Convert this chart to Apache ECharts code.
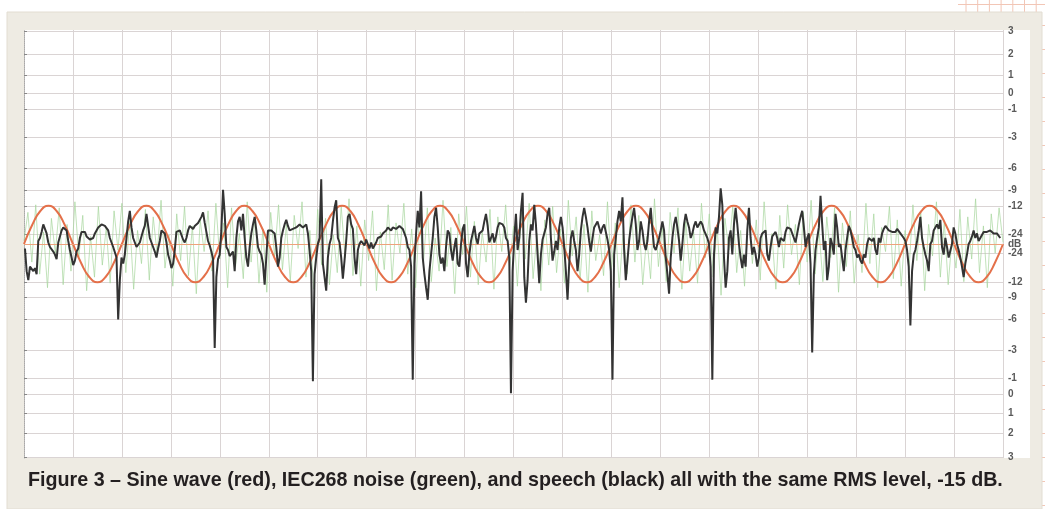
<!DOCTYPE html>
<html><head><meta charset="utf-8">
<script src="https://cdn.jsdelivr.net/npm/echarts@6/dist/echarts.min.js"></script>
<style>html,body{margin:0;padding:0;background:#fff}#c{width:1045px;height:509px}</style>
</head><body><div id="c"></div>
<script>
// dB marks on the right-hand scale (mirrored above/below the zero line)
const dbMarks = [3, 2, 1, 0, -1, -3, -6, -9, -12, -24];
const centerLabel = 'dB';
const captionText = 'Figure 3 \u2013 Sine wave (red), IEC268 noise (green), and speech (black) all with the same RMS level, -15 dB.';

// time axis in ms: 0..10, grid every 0.5 ms
const timeMax = 10;
const timeGrid = 0.5;

// Sine wave (1 kHz, peak ≈ -12 dB), sampled every 1/12 ms
const sineStep = 1 / 12;
const sine = [
 0,0.126,0.219,0.253,0.219,0.126,0,-0.126,-0.219,-0.253,-0.219,-0.126,
 0,0.126,0.219,0.253,0.219,0.126,0,-0.126,-0.219,-0.253,-0.219,-0.126,
 0,0.126,0.219,0.253,0.219,0.126,0,-0.126,-0.219,-0.253,-0.219,-0.126,
 0,0.126,0.219,0.253,0.219,0.126,0,-0.126,-0.219,-0.253,-0.219,-0.126,
 0,0.126,0.219,0.253,0.219,0.126,0,-0.126,-0.219,-0.253,-0.219,-0.126,
 0,0.126,0.219,0.253,0.219,0.126,0,-0.126,-0.219,-0.253,-0.219,-0.126,
 0,0.126,0.219,0.253,0.219,0.126,0,-0.126,-0.219,-0.253,-0.219,-0.126,
 0,0.126,0.219,0.253,0.219,0.126,0,-0.126,-0.219,-0.253,-0.219,-0.126,
 0,0.126,0.219,0.253,0.219,0.126,0,-0.126,-0.219,-0.253,-0.219,-0.126,
 0,0.126,0.219,0.253,0.219,0.126,0,-0.126,-0.219,-0.253,-0.219,-0.126,
 0
];

// IEC268 noise, sampled every 0.04 ms
const noiseStep = 0.04;
const noise = [
 0.02,0.21,-0.12,0.26,-0.20,0.08,-0.29,0.17,-0.06,0.24,-0.27,0.13,-0.18,0.28,-0.09,0.19,-0.31,0.05,-0.22,0.25,-0.14,0.11,-0.26,0.22,-0.04,
 0.27,-0.19,0.15,-0.30,0.09,-0.13,0.23,-0.24,0.18,-0.07,0.29,-0.16,0.06,-0.28,0.20,-0.11,0.25,-0.21,0.12,-0.33,0.16,-0.05,0.22,-0.18,0.27,
 -0.10,0.14,-0.29,0.24,-0.15,0.07,-0.23,0.28,-0.12,0.18,-0.26,0.10,-0.32,0.21,-0.08,0.26,-0.17,0.13,-0.25,0.19,-0.03,0.28,-0.22,0.09,-0.30,
 0.23,-0.14,0.17,-0.27,0.06,-0.19,0.25,-0.09,0.30,-0.21,0.12,-0.28,0.16,-0.11,0.22,-0.31,0.08,-0.17,0.26,-0.24,0.14,-0.06,0.27,-0.20,0.10,
 -0.29,0.19,-0.13,0.24,-0.25,0.04,-0.18,0.29,-0.15,0.11,-0.33,0.20,-0.07,0.25,-0.22,0.15,-0.27,0.08,-0.12,0.23,-0.30,0.18,-0.05,0.26,-0.16,
 0.12,-0.28,0.21,-0.10,0.27,-0.23,0.07,-0.31,0.16,-0.14,0.25,-0.19,0.10,-0.26,0.29,-0.08,0.18,-0.24,0.13,-0.32,0.22,-0.11,0.06,-0.21,0.28,
 -0.17,0.14,-0.29,0.09,-0.20,0.26,-0.12,0.19,-0.27,0.05,-0.23,0.30,-0.15,0.11,-0.25,0.21,-0.06,0.24,-0.30,0.15,-0.18,0.08,-0.26,0.27,-0.09,
 0.20,-0.22,0.12,-0.34,0.17,-0.04,0.25,-0.19,0.09,-0.28,0.23,-0.13,0.16,-0.24,0.28,-0.11,0.07,-0.30,0.19,-0.16,0.26,-0.07,0.13,-0.27,0.21,
 -0.12,0.29,-0.20,0.10,-0.25,0.18,-0.09,0.24,-0.32,0.14,-0.15,0.22,-0.26,0.06,-0.19,0.27,-0.13,0.20,-0.29,0.11,-0.05,0.25,-0.23,0.16,-0.28,
 0.09,-0.17,0.26,-0.11,0.21,-0.31,0.13,-0.08,0.28,-0.22,0.15,-0.27,0.04,-0.16,0.23,-0.25,0.18,-0.10,0.30,-0.19,0.12,-0.29,0.20,-0.06,0.24,
 0.01
];

// Speech, sampled every 0.017 ms starting at 0.01 ms
const speechStart = 0.01;
const speechStep = 0.017;
const speech = [
 -0.03,-0.18,-0.24,-0.15,-0.16,-0.18,-0.16,-0.20,0.02,0.04,0.08,0.13,0.14,0.07,0.01,-0.02,-0.03,-0.05,-0.07,-0.10,
 0.01,0.05,0.09,0.11,0.10,0.09,0.02,-0.04,-0.09,-0.14,-0.11,-0.05,-0.03,0.04,0.08,0.09,0.08,0.05,0.04,0.03,
 0.04,0.04,0.07,0.09,0.11,0.12,0.13,0.13,0.12,0.11,0.09,0.04,0.01,-0.02,-0.03,-0.09,-0.50,-0.24,-0.09,-0.13,
 -0.07,0.04,0.15,0.22,0.11,0.04,0.05,-0.02,-0.03,0.01,0.05,0.09,0.12,0.20,0.12,0.04,0.01,0.01,-0.05,-0.09,
 -0.03,0.02,0.09,0.10,0.07,0.01,-0.07,-0.11,-0.16,-0.13,-0.04,0.08,0.09,0.09,0.08,0.03,0.01,0.04,0.09,0.12,
 0.11,0.10,0.12,0.13,0.14,0.15,0.18,0.21,0.14,0.08,0.02,-0.01,-0.05,-0.10,-0.69,-0.22,-0.10,-0.07,0.09,0.36,
 0.20,-0.02,-0.04,-0.08,-0.09,-0.05,-0.18,0.04,0.15,0.18,0.09,0.20,0.04,-0.09,-0.15,-0.02,0.07,0.13,0.18,0.09,
 -0.02,-0.05,-0.07,-0.13,
 -0.27,-0.09,0.09,0.10,0.09,0.08,0.07,-0.02,-0.15,-0.09,0.04,0.09,0.13,0.16,0.12,0.09,0.08,0.10,0.09,0.11,
 0.12,0.13,0.13,0.11,0.10,0.13,0.07,-0.04,-0.18,-0.91,-0.20,-0.09,0,0.04,0.43,-0.13,-0.22,-0.31,-0.09,0,
 0.04,0.15,0.24,0.29,0.04,0.01,-0.09,-0.23,-0.11,0.02,0.18,0.20,0.13,0.10,-0.09,-0.20,-0.04,0,0.02,0.01,
 -0.01,0.03,0,-0.03,0.01,-0.03,-0.04,0.01,0.04,0.05,0.05,0.07,0.08,0.09,0.11,0.12,0.09,0.11,0.12,0.10,
 0.09,0.12,0.13,0.10,0.09,0.04,-0.02,-0.04,-0.15,-0.90,-0.13,0.07,0.22,0.11,0.35,-0.09,-0.20,-0.29,-0.37,-0.18,
 -0.07,0.04,0.18,0.24,0.11,-0.07,-0.13,-0.09,-0.18,-0.02,0.09,0.07,-0.04,-0.11,-0.02,0.04,-0.13,-0.15,0,0.10,
 0.13,-0.13,-0.22,-0.07,0.02,0.07,0.12,0.04,0,0.07,0.08,0.09,0.15,0.20,0.12,0.01,0.01,0.07,0.01,0.05,
 0.11,0.14,0.15,0.13,0.11,0.04,0.02,
 -0.09,-0.99,-0.18,0.04,0.20,-0.04,0.04,0.22,0.34,-0.22,-0.39,-0.24,0.02,0.13,0.09,0.26,0.13,-0.07,-0.26,-0.07,
 0.03,0.02,0.11,0.20,0.24,0.04,-0.11,-0.05,0.02,-0.04,0.11,0.18,0.11,-0.02,-0.18,-0.37,-0.13,0.04,0.09,0.02,
 -0.04,-0.18,-0.07,0.09,0.18,0.24,0.18,0.11,0.02,-0.05,0.04,0.11,0.10,0.15,0.11,0.07,0.11,0.13,0.08,0.03,
 -0.04,-0.18,-0.90,-0.07,0.04,0.15,0.22,0.15,0.31,-0.04,-0.24,-0.11,0.02,0.11,0.18,0.24,0.13,-0.04,0.02,0.15,
 0.09,0,-0.04,0.02,0.15,0.24,0.09,-0.02,-0.04,0,0.04,0.09,0.15,0.09,-0.09,-0.20,-0.33,-0.09,0.04,0.13,
 0.18,0.11,0.02,-0.11,0,0.13,0.20,0.15,0.11,0.04,0.07,0.12,0.15,0.11,0.12,0.15,0.13,0.09,0.10,0.04,
 0,-0.15,-0.90,-0.07,0.11,0.07,0.18,0.37,0.26,-0.09,-0.29,-0.18,0.04,0.09,-0.07,0.13,0.24,0.13,0,-0.09,
 -0.16,-0.07,-0.15,0.09,0.24,0.04,-0.07,
 -0.02,-0.07,-0.15,-0.09,0.04,0.07,0.08,0.09,-0.07,-0.11,-0.02,0.05,0.04,0.08,0.04,-0.02,0.04,0.04,0.02,0.08,
 0.11,0.12,0.10,0.11,0.04,0.01,0.07,0.13,0.18,0.22,0.11,-0.02,0.04,0.07,-0.13,-0.72,-0.20,-0.04,0.04,0.11,
 0.32,0.13,-0.04,0.02,-0.24,-0.15,0.04,0,-0.07,0.20,0.11,-0.02,0,-0.09,-0.18,-0.04,0.04,0.12,0.09,0.04,
 -0.02,-0.04,-0.09,-0.07,-0.11,-0.13,-0.07,-0.09,0,0.04,0.05,0.02,0.04,-0.04,-0.07,0.04,0.01,0.07,0.10,0.12,
 0.11,0.09,0.10,0.08,0.09,0.08,0.10,0.09,0.07,0.08,0.04,0.02,-0.04,-0.15,-0.54,-0.18,-0.07,-0.04,0.02,0.09,
 0.18,0.04,-0.02,-0.07,-0.11,-0.18,0,0.02,0.09,0.11,0.13,0.10,0.16,-0.02,-0.07,0.04,-0.02,-0.09,-0.09,0,
 0.11,0.07,0,-0.04,-0.09,-0.15,-0.22,-0.13,-0.07,0,0.02,0.05,0.09,0.04,0.07,0.02,0.04,0.05,0.08,0.09,
 0.08,0.08,0.09,0.08,0.07,0.08,0.07,0.07,0.04
];

// ---- build ----
const tickVals = [0];
const tickText = {};
dbMarks.forEach(d => {
  const a = Math.pow(10, d / 20);
  tickVals.push(a, -a);
  tickText[a.toFixed(5)] = String(d);
  tickText[(-a).toFixed(5)] = String(d);
});
function labelFor(v) {
  if (Math.abs(v) < 1e-6) return centerLabel;
  const t = tickText[v.toFixed(5)];
  return t !== undefined ? t : '';
}

const sineData = sine.map((v, i) => [i * sineStep, v]);
const noiseData = noise.map((v, i) => [i * noiseStep, v]);
const speechData = speech.map((v, i) => [speechStart + i * speechStep, v]);

const chart = echarts.init(document.getElementById('c'), null, {renderer: 'canvas'});

const pink = '#f2c6b6';
const pinkLines = [];
for (let i = 0; i < 8; i++) {
  const x = 966 + i * 11.7;
  pinkLines.push({type: 'line', z: -20, shape: {x1: x, y1: 0, x2: x, y2: 12}, style: {stroke: pink, lineWidth: 1}});
}
pinkLines.push({type: 'line', z: -20, shape: {x1: 958, y1: 4.5, x2: 1045, y2: 4.5}, style: {stroke: pink, lineWidth: 1}});
for (let y = 25; y < 509; y += 24) {
  pinkLines.push({type: 'line', z: -20, shape: {x1: 1042, y1: y + 0.5, x2: 1045, y2: y + 0.5}, style: {stroke: pink, lineWidth: 1}});
}

chart.setOption({
  animation: false,
  backgroundColor: '#ffffff',
  graphic: [
    ...pinkLines,
    {type: 'rect', z: -15, shape: {x: 7, y: 12, width: 1035, height: 497}, style: {fill: '#eeebe3', stroke: '#e2ddd2', lineWidth: 1}},
    {type: 'rect', z: -10, shape: {x: 24, y: 30, width: 1006, height: 428}, style: {fill: '#ffffff'}},
    {type: 'text', z: 10, left: 28, top: 471, style: {text: captionText, font: 'bold 19.7px "Liberation Sans"', fill: '#231f20'}}
  ],
  grid: {left: 24, right: 42, top: 30, height: 428, containLabel: false},
  xAxis: {
    type: 'value', min: 0, max: timeMax, interval: timeGrid,
    axisLine: {show: false}, axisTick: {show: false}, axisLabel: {show: false},
    splitLine: {show: true, lineStyle: {color: '#dad4d4', width: 1}}
  },
  yAxis: {
    type: 'value', position: 'right', min: -1.42, max: 1.42,
    axisLine: {show: true, lineStyle: {color: '#a9a9a9', type: 'dotted', width: 1}},
    axisTick: {show: true, customValues: tickVals, length: 3, lineStyle: {color: '#888'}},
    axisLabel: {
      show: true, customValues: tickVals, formatter: labelFor, margin: 5,
      color: '#5a5a5a', fontSize: 10, fontWeight: 'bold', fontFamily: 'Liberation Sans'
    },
    splitLine: {show: true, lineStyle: {color: '#dad4d4', width: 1}}
  },
  series: [
    {
      name: 'IEC268 noise', type: 'line', data: noiseData, showSymbol: false, z: 3,
      lineStyle: {color: '#a6d69c', width: 1, opacity: 0.7}
    },
    {
      name: 'Sine', type: 'line', data: sineData, showSymbol: false, smooth: true, z: 4,
      lineStyle: {color: '#e4704a', width: 2},
      markLine: {
        silent: true, symbol: ['none', 'none'], label: {show: false},
        lineStyle: {color: '#eea27c', width: 1, type: 'solid'},
        data: [{yAxis: 0}]
      }
    },
    {
      name: 'Speech', type: 'line', data: speechData, showSymbol: false, z: 5,
      lineStyle: {color: '#333333', width: 2}
    }
  ]
});
</script></body></html>
